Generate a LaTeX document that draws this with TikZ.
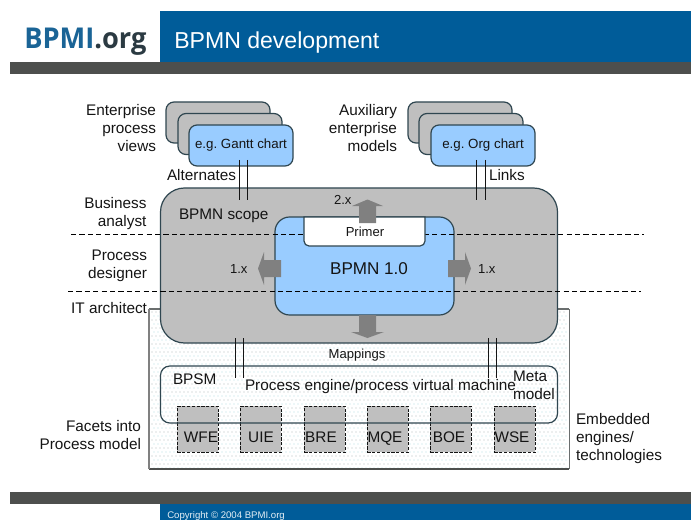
\documentclass[tikz,border=0pt]{standalone}
\usepackage{fontspec}
\setmainfont{Liberation Sans}
\newfontfamily\logofont[FakeStretch=0.95]{Open Sans}
\definecolor{bandblue}{HTML}{005C99}
\definecolor{bardark}{HTML}{4D4F4D}
\definecolor{edgecol}{HTML}{2F4650}
\definecolor{boxgray}{HTML}{BFBFBF}
\definecolor{boxblue}{HTML}{99CCFF}
\definecolor{inkcol}{HTML}{141414}
\definecolor{arrowgray}{HTML}{808080}
\definecolor{framecol}{HTML}{6A6E6E}
\definecolor{dotA}{HTML}{B4BABA}
\definecolor{dotB}{HTML}{B4E0E4}
\frenchspacing
\tikzset{
  x=0.75pt,y=-0.75pt,
  wh/.style 2 args={minimum width=#1*0.75pt,minimum height=#2*0.75pt},
  shapebox/.style={draw=edgecol,line width=0.9pt,inner sep=0pt,outer sep=0pt,rectangle},
  stackgray/.style={shapebox,fill=boxgray,rounded corners=6pt,wh={104}{41}},
  stackblue/.style={shapebox,fill=boxblue,rounded corners=6pt,wh={104}{41},font=\fontsize{10}{12}\selectfont,text=inkcol},
  facet/.style={draw=inkcol,dash pattern=on 2.4pt off 1.2pt,line width=0.7pt,fill=boxgray,rectangle,inner sep=0pt,wh={41}{46}},
  lab/.style={inner sep=0pt,outer sep=0pt,text=inkcol,font=\fontsize{11.5}{13.5}\selectfont},
  smalllab/.style={inner sep=0pt,outer sep=0pt,text=inkcol,font=\fontsize{9.8}{12}\selectfont},
  facetlab/.style={inner sep=0pt,text=inkcol,font=\fontsize{11.5}{13.5}\selectfont},
  linkline/.style={draw=inkcol,line width=0.6pt},
  lane/.style={draw=black,line width=0.7pt,dash pattern=on 3.9pt off 2.4pt},
  fatarrow/.style={fill=arrowgray,draw=none},
}
\begin{document}
\begin{tikzpicture}
\useasboundingbox (0,0) rectangle (691,520);
% header and footer
\fill[bandblue] (160,11) rectangle (691,62);
\fill[bardark] (10,62) rectangle (691,74);
\fill[bardark] (10,492) rectangle (691,504);
\fill[bandblue] (160,504) rectangle (691,520);
\node[anchor=base west,inner sep=0pt,font=\logofont\bfseries\fontsize{21.5}{24}\selectfont] (logo) at (24,49)
  {\textcolor[HTML]{1A6496}{BPMI}\textcolor[HTML]{2B3A42}{.org}};
\node[anchor=base west,inner sep=0pt,text=white,font=\fontsize{17.3}{20}\selectfont] (title) at (174,49) {BPMN development};
\node[anchor=base west,inner sep=0pt,text=white!90!bandblue,font=\fontsize{7.2}{9}\selectfont] (copy) at (167,518.5) {Copyright © 2004 BPMI.org};
% engines frame with dotted ground
\node[rectangle,inner sep=0pt,outer sep=0pt,wh={420}{160},anchor=north west,fill=white] (engines) at (149,309) {};
\foreach \r in {0,...,39}{
  \pgfmathtruncatemacro{\rowodd}{mod(\r,2)}
  \ifnum\rowodd=0 \def\dotcol{dotA}\else \def\dotcol{dotB}\fi
  \foreach \c in {0,...,103}{
    \fill[\dotcol] ({152+\c*4+\rowodd*2},{312+\r*4}) circle[radius=0.55];
  }
}
\draw[draw=framecol,line width=0.65pt] (engines.north east) -- (engines.south east);
\draw[draw=framecol,line width=0.8pt] (engines.north west) -- (engines.north east);
\draw[draw=bardark,line width=0.8pt] (engines.south west) -- (engines.south east);
\draw[draw=arrowgray,line width=1.4pt] (engines.north west) -- (engines.south west);
% stacks
\node[stackgray,anchor=north west] (g1) at (166,102) {};
\node[stackgray,anchor=north west] (g2) at (178,113.5) {};
\node[stackblue,anchor=north west] (gantt) at (189,125) {e.g. Gantt chart};
\node[stackgray,anchor=north west] (o1) at (408,102) {};
\node[stackgray,anchor=north west] (o2) at (419,113.5) {};
\node[stackblue,anchor=north west] (org) at (431,125) {e.g. Org chart};
% scope and core
\node[shapebox,fill=boxgray,rounded corners=18pt,wh={397}{155},anchor=north west] (scope) at (160.5,188) {};
\node[shapebox,fill=boxblue,rounded corners=11pt,wh={179}{98},anchor=north west] (core) at (275,217) {};
\node[inner sep=0pt,text=inkcol,font=\fontsize{12.8}{15}\selectfont] (bpmn) at (369,269) {BPMN 1.0};
% lanes
\coordinate (laneAl) at (71,234); \coordinate (laneAr) at (644,234);
\coordinate (laneBl) at (68,291.5); \coordinate (laneBr) at (641,291.5);
\draw[lane] (laneAl) -- (laneAr);
\draw[lane] (laneBl) -- (laneBr);
% primer
\draw[draw=edgecol,line width=0.9pt,fill=white]
  (304,217) -- (304,241) arc[start angle=180,end angle=90,radius=5] -- (420,246) arc[start angle=90,end angle=0,radius=5] -- (425,217) -- cycle;
\node[smalllab] (primer) at (365,232) {Primer};
% fat arrows
\fill[fatarrow] (359,223) -- (359,206) -- (352,206) -- (367.5,199.5) -- (383,206) -- (376,206) -- (376,223) -- cycle;
\fill[fatarrow] (359,315) -- (359,332) -- (351,332) -- (367.5,338) -- (384,332) -- (376,332) -- (376,315) -- cycle;
\fill[fatarrow] (448,260) -- (465,260) -- (465,252) -- (471,268.5) -- (465,285) -- (465,277) -- (448,277) -- cycle;
\fill[fatarrow] (281,260) -- (264,260) -- (264,252) -- (258,268.5) -- (264,285) -- (264,277) -- (281,277) -- cycle;
% process engine
\foreach \nm/\xx in {wfe/177,uie/240,bre/304,mqe/367,boe/430,wse/494}{
  \node[facet,anchor=north west] (\nm) at (\xx,406) {};
}
\node[shapebox,fill=none,rounded corners=7pt,wh={397}{57},anchor=north west] (bpsmbox) at (160.5,366) {};
\foreach \nm/\tx/\lx in {wfe/WFE/201,uie/UIE/261,bre/BRE/321,mqe/MQE/385,boe/BOE/449,wse/WSE/512}{
  \node[facetlab,anchor=base] (\nm lab) at (\lx,442.5) {\tx};
}
% double connectors
\foreach \xx/\nm in {239/a,247/b}{
  \coordinate (gt\nm) at (\xx,160); \coordinate (gb\nm) at (\xx,200);
  \draw[linkline] (gt\nm) -- (gb\nm);
}
\foreach \xx/\nm in {476.7/a,485/b}{
  \coordinate (ot\nm) at (\xx,160); \coordinate (ob\nm) at (\xx,200);
  \draw[linkline] (ot\nm) -- (ob\nm);
}
\foreach \xx/\nm in {235/a,243/b}{
  \coordinate (lt\nm) at (\xx,338); \coordinate (lb\nm) at (\xx,378);
  \draw[linkline] (lt\nm) -- (lb\nm);
}
\foreach \xx/\nm in {488/a,496/b}{
  \coordinate (rt\nm) at (\xx,338); \coordinate (rb\nm) at (\xx,378);
  \draw[linkline] (rt\nm) -- (rb\nm);
}
% labels
\node[lab,align=right,anchor=east] (l1) at (156,128) {Enterprise\\process\\views};
\node[lab,align=right,anchor=east] (l2) at (397,128) {Auxiliary\\enterprise\\models};
\node[lab,anchor=west] (l3) at (167,175.5) {Alternates};
\node[lab,anchor=west] (l4) at (489,175.5) {Links};
\node[lab,align=right,anchor=east] (l5) at (146.5,214) {Business\\analyst};
\node[lab,align=right,anchor=east] (l6) at (147,266) {Process\\designer};
\node[lab,anchor=east] (l7) at (147,308) {IT architect};
\node[lab,align=right,anchor=east] (l8) at (141,435.5) {Facets into\\Process model};
\node[lab,align=left,anchor=west] (l9) at (576,438.5) {Embedded\\engines/\\technologies};
\node[lab,anchor=west] (l10) at (179,215.5) {BPMN scope};
\node[smalllab,anchor=west] (v2) at (334,200) {2.x};
\node[smalllab,anchor=west] (v1l) at (230,269) {1.x};
\node[smalllab,anchor=west] (v1r) at (478,269) {1.x};
\node[smalllab] (map) at (357,355.5) {Mappings};
\node[lab,anchor=base west] (bpsm) at (173,384) {BPSM};
\node[lab,anchor=base west] (pe) at (245,390) {Process engine/process virtual machine};
\node[lab,align=left,anchor=west] (meta) at (513,385) {Meta\\model};
\end{tikzpicture}
\end{document}
